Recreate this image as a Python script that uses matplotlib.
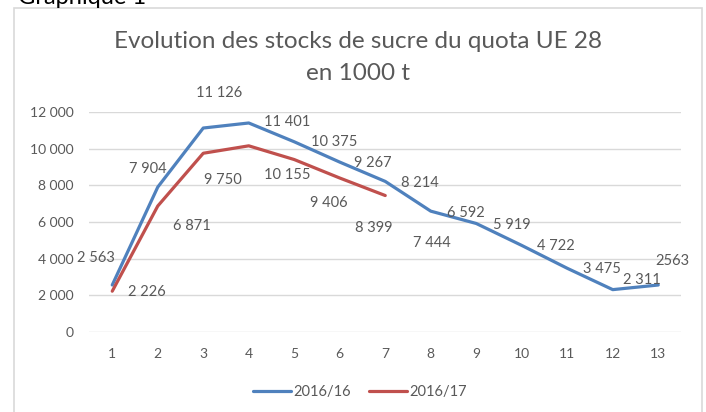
import numpy as np
import matplotlib
matplotlib.use("Agg")
import matplotlib.pyplot as plt
from matplotlib.patches import Rectangle

# Data
months = list(range(1, 14))
stocks_2016_16 = [2563, 7904, 11126, 11401, 10375, 9267, 8214, 6592, 5919, 4722, 3475, 2311, 2563]
labels_2016_16 = ["2 563", "7 904", "11 126", "11 401", "10 375", "9 267", "8 214",
                  "6 592", "5 919", "4 722", "3 475", "2 311", "2563"]
stocks_2016_17 = [2226, 6871, 9750, 10155, 9406, 8399, 7444]
labels_2016_17 = ["2 226", "6 871", "9 750", "10 155", "9 406", "8 399", "7 444"]
y_ticks = [0, 2000, 4000, 6000, 8000, 10000, 12000]

# label offsets in pixels (layout only)
off_16 = [(-16, 27), (-10, 18), (16, 35), (38, 1), (40, 0), (33, -1), (35, -2),
          (35, -2), (36, -2), (34, -1), (35, -1), (29, 10), (14, 24)]
off_17 = [(35, -1), (34, -20), (20, -27), (39, -29), (35, -43), (34, -50), (47, -47)]

blue = "#4F81BD"
red = "#C0504D"
grey = "#595959"

plt.rcParams["font.family"] = ["Lato", "DejaVu Sans"]

W, H = 706, 412
fig = plt.figure(figsize=(W / 100, H / 100), dpi=100)
ax = fig.add_axes([89.5 / W, (H - 332) / H, 591.5 / W, 220 / H])

ax.plot(months, stocks_2016_16, color=blue, lw=2.3, label="2016/16", solid_capstyle="round")
ax.plot(months[:len(stocks_2016_17)], stocks_2016_17, color=red, lw=2.3, label="2016/17",
        solid_capstyle="round")

for x, v, t, o in zip(months, stocks_2016_16, labels_2016_16, off_16):
    ax.annotate(t, (x, v), xytext=o, textcoords="offset pixels", ha="center", va="center",
                fontsize=10.5, color=grey, annotation_clip=False)
for x, v, t, o in zip(months, stocks_2016_17, labels_2016_17, off_17):
    ax.annotate(t, (x, v), xytext=o, textcoords="offset pixels", ha="center", va="center",
                fontsize=10.5, color=grey, annotation_clip=False)

ax.set_xlim(0.5, 13.5)
ax.set_ylim(0, 12000)
ax.set_xticks(months)
ax.set_yticks(y_ticks)
ax.set_yticklabels([f"{v:,}".replace(",", " ") for v in y_ticks])
ax.tick_params(axis="both", length=0, labelsize=10, labelcolor=grey)
ax.tick_params(axis="x", pad=11.5)
ax.tick_params(axis="y", pad=11.5)
for s in ax.spines.values():
    s.set_visible(False)
ax.grid(axis="y", color="#D9D9D9", lw=1)
ax.set_axisbelow(True)

leg = fig.legend(loc="center", bbox_to_anchor=(360 / W, 1 - 392 / H), ncol=2, frameon=False,
                 fontsize=10.5, handlelength=2.6, handletextpad=0.2, columnspacing=1.2,
                 labelcolor=grey)

fig.text(358 / W, 1 - 48 / H, "Evolution des stocks de sucre du quota UE 28", ha="center",
         va="baseline", fontsize=17.5, color=grey)
fig.text(358 / W, 1 - 80 / H, "en 1000 t", ha="center", va="baseline", fontsize=17.5, color=grey)

fig.text(18 / W, 1 - 4 / H, "Graphique 1", ha="left", va="baseline", fontsize=17, color="black")

fig.patches.append(Rectangle((14 / W, -0.02), (702 - 14) / W, (H - 8) / H + 0.02,
                             transform=fig.transFigure, fill=False, edgecolor="#D9D9D9", lw=1.2))

fig.savefig("out.png", dpi=100)
